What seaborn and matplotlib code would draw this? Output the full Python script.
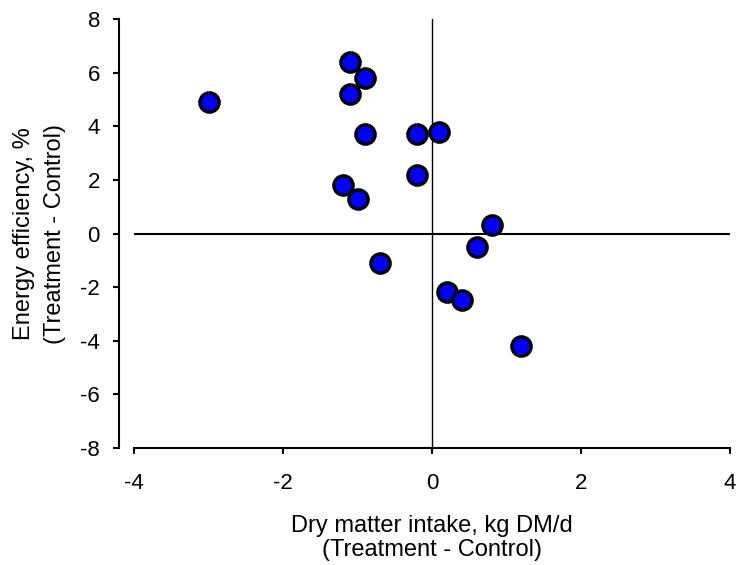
import matplotlib
matplotlib.use("Agg")
import matplotlib.pyplot as plt
import seaborn as sns
import pandas as pd

# Values
dmi_diff = [-3.0, -1.1, -0.9, -1.1, -0.9, -0.2, 0.1, -0.2, -1.2, -1.0, 0.8, 0.6, -0.7, 0.2, 0.4, 1.2]
ee_diff = [4.9, 6.4, 5.8, 5.2, 3.7, 3.7, 3.8, 2.2, 1.8, 1.3, 0.3, -0.5, -1.1, -2.2, -2.5, -4.2]
x_ticks = [-4, -2, 0, 2, 4]
y_ticks = [-8, -6, -4, -2, 0, 2, 4, 6, 8]

df = pd.DataFrame({'dmi': dmi_diff, 'ee': ee_diff})

sns.set_style('ticks')
plt.rcParams['font.family'] = ['Liberation Sans', 'DejaVu Sans']
plt.rcParams['text.color'] = 'black'
plt.rcParams['axes.labelcolor'] = 'black'

fig = plt.figure(figsize=(7.36, 5.65), dpi=100)
ax = fig.add_axes([0.1821, 0.2076, 0.8098, 0.7582])

# reference lines through zero
ax.axhline(0, color='black', lw=1.5, zorder=1)
ax.axvline(0, color='black', lw=1.0, zorder=1)

sns.scatterplot(data=df, x='dmi', y='ee', ax=ax, color='#0000ff',
                edgecolor='black', linewidth=2.4, s=193, zorder=3)

ax.set_xlim(-4, 4)
ax.set_ylim(-8, 8)
ax.set_xticks(x_ticks)
ax.set_yticks(y_ticks)
ax.set_xticklabels([str(t) for t in x_ticks])
ax.set_yticklabels([str(t) for t in y_ticks])

for side in ['top', 'right']:
    ax.spines[side].set_visible(False)
for side in ['left', 'bottom']:
    ax.spines[side].set_linewidth(1.5)
    ax.spines[side].set_color('black')
# y axis sits a little to the left of the plot area
ax.spines['left'].set_position(('outward', 11))

ax.tick_params(axis='both', direction='out', length=4, width=1.5,
               colors='black', labelsize=16)
ax.tick_params(axis='x', pad=14)
ax.tick_params(axis='y', pad=9.5)

ax.set_xlabel('Dry matter intake, kg DM/d\n(Treatment - Control)',
              fontsize=17, labelpad=15, linespacing=1.13)
ax.set_ylabel('Energy efficiency, %\n(Treatment - Control)',
              fontsize=17, labelpad=10, linespacing=1.57)

fig.savefig('out.png', dpi=100)
